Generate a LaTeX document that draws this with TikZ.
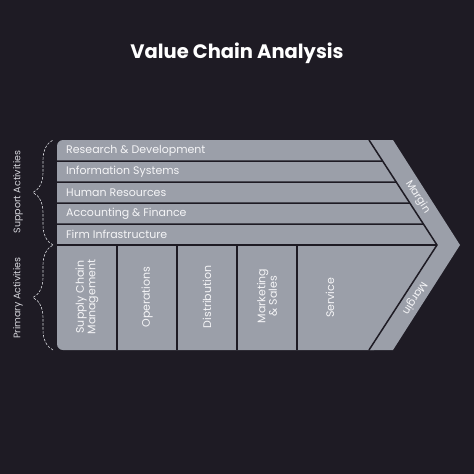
\documentclass[tikz,border=0pt]{standalone}
\usepackage{fontspec}
\setmainfont{Poppins}
\usetikzlibrary{calc}
\usetikzlibrary{decorations.pathreplacing}
\definecolor{bg}{HTML}{1E1B24}
\definecolor{band}{HTML}{9B9FA9}
\definecolor{ink}{HTML}{F5F5F7}
\definecolor{dim}{HTML}{D6D6DC}

\begin{document}
\begin{tikzpicture}[x=1pt, y=-1pt,
    row/.style={anchor=west, text=ink, inner sep=0pt, font=\fontsize{11}{12}\selectfont},
    col/.style={rotate=90, text=ink, align=center, inner sep=0pt, font=\fontsize{11}{11.5}\selectfont},
    side/.style={rotate=90, text=dim, inner sep=0pt, font=\fontsize{9.5}{10}\selectfont},
    sep/.style={draw=bg, line width=1.5pt},
    bracket/.style={draw=dim, line width=0.6pt, dash pattern=on 2.5pt off 1.5pt,
        decorate, decoration={brace, amplitude=20pt}}]
        \fill[bg] (0, 0) rectangle (474, 474);
        
        \node (t) at (237, 58.5) [anchor=base, text=white, font=\fontsize{19.5}{22}\selectfont\bfseries] {Value Chain Analysis};
        
        % chevron body
        \fill[band, rounded corners=6pt] (57, 140) rectangle (380, 350);
        \fill[band] (370, 140) -- (393, 140) -- (460, 245) -- (393, 350) -- (370, 350) -- cycle;
        
        \coordinate (it) at (369, 140);
        \coordinate (ip) at (437, 245);
        \coordinate (ib) at (369, 350);
        
        \draw[sep] (it) -- (ip) -- (ib);
        
        \draw[sep] (57, 161) -- ($(it)!0.2!(ip)$);
        \draw[sep] (57, 182) -- ($(it)!0.4!(ip)$);
        \draw[sep] (57, 203) -- ($(it)!0.6!(ip)$);
        \draw[sep] (57, 224) -- ($(it)!0.8!(ip)$);
        \draw[sep] (57, 245) -- (ip);
        
        \draw[sep] (117, 245) -- (117, 350);
        \draw[sep] (177, 245) -- (177, 350);
        \draw[sep] (237, 245) -- (237, 350);
        \draw[sep] (297, 245) -- (297, 350);
        
        % support activities
        \node[row] (r0) at (66, 150.5) {Research \& Development};
        \node[row] (r1) at (66, 171.5) {Information Systems};
        \node[row] (r2) at (66, 192.5) {Human Resources};
        \node[row] (r3) at (66, 213.5) {Accounting \& Finance};
        \node[row] (r4) at (66, 234.5) {Firm Infrastructure};
        
        % primary activities
        \node[col] (p0) at (87, 297) {Supply Chain\\Management};
        \node[col] (p1) at (147, 297) {Operations};
        \node[col] (p2) at (207, 297) {Distribution};
        \node[col] (p3) at (267, 296) {Marketing\\\& Sales};
        \node[col] (p4) at (330, 298) {Service};
        
        \node (m0) at (417.5, 197) [rotate=-57.5, text=ink, inner sep=0pt, font=\fontsize{10.5}{11}\selectfont] {Margin};
        \node (m1) at (414.5, 298) [rotate=-122.5, text=ink, inner sep=0pt, font=\fontsize{10.5}{11}\selectfont] {Margin};
        
        % left brackets
        \node[side] (sa) at (18, 192) {Support Activities};
        \node[side] (pa) at (18, 298) {Primary Activities};
        
        \draw[bracket] (53, 245) -- (53, 140);
        \draw[bracket] (53, 350) -- (53, 245);
    \end{tikzpicture}
\end{document}
